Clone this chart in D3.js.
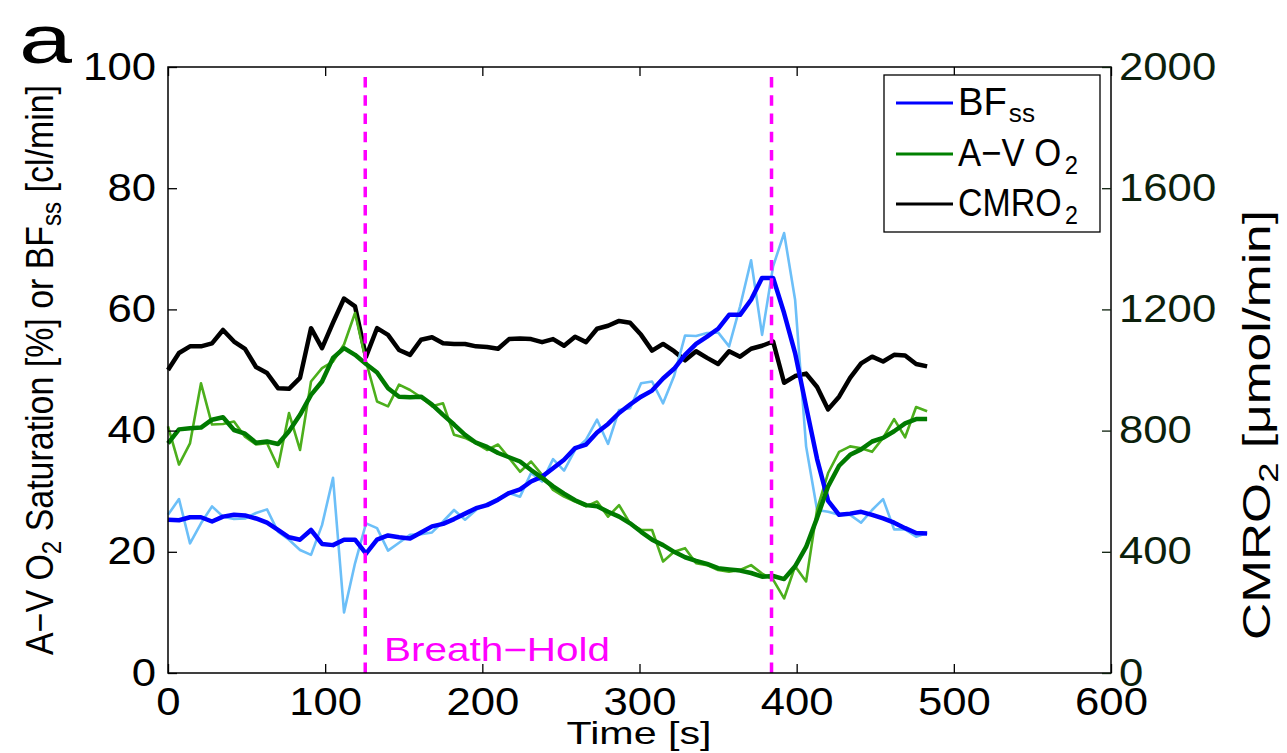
<!DOCTYPE html>
<html>
<head>
<meta charset="utf-8">
<script src="https://cdn.jsdelivr.net/npm/d3@7"></script>
<style>
  body { margin: 0; background: #fff; }
</style>
</head>
<body>
<svg id="chart" width="1287" height="753"></svg>
<script>
// sample times [s]
const timeSec = [0, 7, 14, 21, 28, 35, 42, 49, 56, 63, 70, 77, 84, 91, 98, 105, 112, 119, 126, 133,
    140, 147, 154, 161, 168, 175, 182, 189, 196, 203, 210, 217, 224, 231, 238, 245, 252, 259, 266, 273,
    280, 287, 294, 301, 308, 315, 322, 329, 336, 343, 350, 357, 364, 371, 378, 385, 392, 399, 406, 413,
    420, 427, 434, 441, 448, 455, 462, 469, 476, 483];

// BFss raw (light blue) and smoothed (blue), cl/min
const bfRaw = [26.1, 28.7, 21.4, 24.7, 27.5, 25.8, 25.4, 25.5, 26.4, 27.0, 23.3, 22.0, 20.3, 19.5, 24.4, 32.2, 10.0, 18.1, 24.7, 23.9,
    20.2, 21.5, 22.8, 22.9, 23.2, 25.0, 26.9, 25.3, 26.9, 27.9, 28.8, 29.7, 29.1, 33.0, 31.6, 35.3, 33.4, 36.8, 38.5, 41.8,
    37.8, 43.4, 43.7, 47.8, 48.1, 44.5, 49.0, 55.7, 55.6, 56.1, 56.2, 53.9, 60.5, 68.1, 55.8, 67.1, 72.6, 61.6, 37.4, 26.9,
    26.6, 26.1, 26.1, 24.8, 26.9, 28.7, 23.7, 23.7, 22.5, 23.1];
const bfSmooth = [25.3, 25.2, 25.7, 25.7, 25.0, 25.8, 26.1, 26.0, 25.5, 24.8, 23.6, 22.4, 22.0, 23.6, 21.3, 21.1, 22.0, 22.0, 19.7, 22.0,
    22.7, 22.4, 22.2, 23.2, 24.2, 24.6, 25.4, 26.3, 27.2, 27.7, 28.6, 29.7, 30.3, 31.6, 32.4, 33.8, 35.2, 37.1, 37.7, 39.7,
    41.1, 42.9, 44.3, 45.6, 46.6, 48.6, 50.2, 52.5, 54.3, 55.5, 56.8, 59.1, 59.1, 61.6, 65.2, 65.2, 59.4, 52.8, 44.0, 35.3,
    28.4, 26.1, 26.3, 26.6, 26.1, 25.5, 24.8, 23.9, 23.1, 23.0];

// A-V O2 saturation raw (light green) and smoothed (green), %
const avo2Raw = [40.7, 34.4, 37.9, 47.8, 41.0, 41.1, 41.5, 39.0, 37.7, 37.9, 34.0, 42.9, 36.8, 48.1, 50.3, 51.4, 54.2, 59.4, 51.4, 44.8,
    44.0, 47.6, 46.7, 45.5, 44.0, 44.5, 39.3, 38.8, 37.9, 36.8, 37.7, 35.5, 33.2, 34.9, 32.7, 30.2, 29.1, 28.3, 27.5, 28.3,
    25.8, 27.7, 24.7, 23.6, 23.6, 18.4, 20.0, 20.6, 18.1, 17.8, 17.0, 16.7, 17.0, 17.8, 16.4, 15.4, 12.3, 17.6, 15.1, 27.0,
    33.0, 36.5, 37.4, 37.1, 36.5, 38.8, 41.9, 38.9, 43.9, 43.2];
const avo2Smooth = [37.9, 40.2, 40.4, 40.5, 41.8, 42.2, 40.1, 39.5, 38.0, 38.2, 37.8, 39.9, 42.6, 45.9, 48.1, 52.0, 53.6, 52.5, 51.0, 49.6,
    47.0, 45.6, 45.5, 45.6, 44.3, 42.6, 41.0, 39.3, 38.0, 37.3, 36.3, 35.6, 34.9, 33.5, 32.2, 30.8, 29.6, 28.5, 27.7, 27.5,
    26.6, 25.8, 24.7, 23.3, 22.0, 21.1, 20.0, 19.1, 18.5, 18.0, 17.3, 17.1, 16.9, 16.5, 15.9, 16.0, 15.5, 17.6, 20.8, 25.6,
    30.8, 34.2, 36.0, 36.9, 38.2, 38.8, 39.9, 41.2, 41.9, 41.9];

// CMRO2, umol/min (right axis)
const cmro2 = [1000, 1056, 1078, 1078, 1088, 1132, 1094, 1070, 1010, 990, 940, 938, 974, 1138, 1072, 1156, 1236, 1210, 1044, 1138,
    1116, 1066, 1050, 1100, 1108, 1088, 1086, 1086, 1078, 1076, 1070, 1102, 1104, 1102, 1092, 1102, 1080, 1110, 1092, 1136,
    1146, 1162, 1156, 1116, 1064, 1086, 1062, 1032, 1062, 1040, 1020, 1062, 1044, 1070, 1080, 1094, 958, 980, 988, 944,
    870, 912, 974, 1022, 1044, 1028, 1050, 1048, 1020, 1012];

// breath-hold start / end [s]
const breathHold = [125.5, 384];

const xTicks = [0, 100, 200, 300, 400, 500, 600];
const yLeftTicks = [0, 20, 40, 60, 80, 100];
const yRightTicks = [0, 400, 800, 1200, 1600, 2000];

const legendItems = [
    { label: "BF", sub: "ss", color: "#0000ff" },
    { label: "A\u2212V O", sub: "2", color: "#008000" },
    { label: "CMRO", sub: "2", color: "#000000" }
];

const FONT = "'Liberation Sans', Arial, Helvetica, sans-serif";
const svg = d3.select("#chart");

const area = { left: 168, right: 1111, top: 67, bottom: 673 };

const x = d3.scaleLinear().domain([0, 600]).range([area.left, area.right]);
const yL = d3.scaleLinear().domain([0, 100]).range([area.bottom, area.top]);
const yR = d3.scaleLinear().domain([0, 2000]).range([area.bottom, area.top]);

function drawSeries(values, scaleY, color, width) {
    const line = d3.line()
        .x((d, i) => x(timeSec[i]))
        .y(d => scaleY(d));
    svg.append("path")
        .datum(values)
        .attr("d", line)
        .attr("fill", "none")
        .attr("stroke", color)
        .attr("stroke-width", width)
        .attr("stroke-linejoin", "round");
}

drawSeries(cmro2, yR, "#000000", 4.5);
drawSeries(bfRaw, yL, "#6cbff8", 2.6);
drawSeries(avo2Raw, yL, "#4caf1c", 2.6);
drawSeries(bfSmooth, yL, "#0000ff", 4.5);
drawSeries(avo2Smooth, yL, "#007a00", 4.5);

// breath-hold markers
svg.selectAll(".bh")
    .data(breathHold)
    .enter()
    .append("line")
    .attr("class", "bh")
    .attr("x1", d => x(d))
    .attr("x2", d => x(d))
    .attr("y1", area.bottom)
    .attr("y2", 75)
    .attr("stroke", "#ff00ff")
    .attr("stroke-width", 3.5)
    .attr("stroke-dasharray", "10.5,7.8");

svg.append("text")
    .attr("x", 384)
    .attr("y", 661)
    .attr("font-family", FONT)
    .attr("font-size", 33)
    .attr("fill", "#ff00ff")
    .attr("textLength", 226)
    .attr("lengthAdjust", "spacingAndGlyphs")
    .text("Breath\u2212Hold");

// frame
svg.append("rect")
    .attr("x", area.left)
    .attr("y", area.top)
    .attr("width", area.right - area.left)
    .attr("height", area.bottom - area.top)
    .attr("fill", "none")
    .attr("stroke", "#000")
    .attr("stroke-width", 1.5);

function styleAxis(g, color) {
    g.select(".domain").remove();
    g.selectAll(".tick line").attr("stroke", color).attr("stroke-width", 1.3);
    g.selectAll(".tick text")
        .attr("font-family", FONT)
        .attr("font-size", 38)
        .attr("fill", color)
        .attr("textLength", d => String(d).length * 24.3)
        .attr("lengthAdjust", "spacingAndGlyphs");
}

svg.append("g")
    .attr("transform", `translate(0,${area.bottom})`)
    .call(d3.axisBottom(x).tickValues(xTicks).tickSize(-9).tickSizeOuter(0).tickPadding(15).tickFormat(d3.format("d")))
    .call(g => styleAxis(g, "#000"));

svg.append("g")
    .attr("transform", `translate(0,${area.top})`)
    .call(d3.axisTop(x).tickValues(xTicks).tickSize(-9).tickSizeOuter(0).tickFormat(""))
    .call(g => styleAxis(g, "#000"));

svg.append("g")
    .attr("transform", `translate(${area.left},0)`)
    .call(d3.axisLeft(yL).tickValues(yLeftTicks).tickSize(-9).tickSizeOuter(0).tickPadding(12).tickFormat(d3.format("d")))
    .call(g => styleAxis(g, "#000"));

svg.append("g")
    .attr("transform", `translate(${area.right},0)`)
    .call(d3.axisRight(yR).tickValues(yRightTicks).tickSize(-9).tickSizeOuter(0).tickPadding(8).tickFormat(d3.format("d")))
    .call(g => styleAxis(g, "#0c1f0c"));

// axis titles
svg.append("text")
    .attr("x", 639)
    .attr("y", 744)
    .attr("text-anchor", "middle")
    .attr("font-family", FONT)
    .attr("font-size", 32)
    .attr("textLength", 145)
    .attr("lengthAdjust", "spacingAndGlyphs")
    .text("Time [s]");

const leftTitle = svg.append("text")
    .attr("transform", "translate(53,370) rotate(-90)")
    .attr("text-anchor", "middle")
    .attr("font-family", FONT)
    .attr("font-size", 38)
    .attr("textLength", 570)
    .attr("lengthAdjust", "spacingAndGlyphs");
leftTitle.append("tspan").text("A\u2212V O");
leftTitle.append("tspan").attr("font-size", 27).attr("dy", 8).text("2");
leftTitle.append("tspan").attr("dy", -8).text(" Saturation [%] or BF");
leftTitle.append("tspan").attr("font-size", 27).attr("dy", 8).text("ss");
leftTitle.append("tspan").attr("dy", -8).text(" [cl/min]");

const rightTitle = svg.append("text")
    .attr("transform", "translate(1270,425) rotate(-90)")
    .attr("text-anchor", "middle")
    .attr("font-family", FONT)
    .attr("font-size", 38)
    .attr("fill", "#000")
    .attr("textLength", 430)
    .attr("lengthAdjust", "spacingAndGlyphs");
rightTitle.append("tspan").text("CMRO");
rightTitle.append("tspan").attr("font-size", 27).attr("dy", 8).text("2");
rightTitle.append("tspan").attr("dy", -8).text(" [\u03bcmol/min]");

// panel letter
svg.append("text")
    .attr("x", 19)
    .attr("y", 63)
    .attr("font-family", FONT)
    .attr("font-size", 69)
    .attr("textLength", 53)
    .attr("lengthAdjust", "spacingAndGlyphs")
    .text("a");

// legend
const legend = svg.append("g");
legend.append("rect")
    .attr("x", 884)
    .attr("y", 75)
    .attr("width", 216)
    .attr("height", 157)
    .attr("fill", "#fff")
    .attr("stroke", "#000")
    .attr("stroke-width", 1.3);

const rowY = [103, 154, 204];
const labelW = [77, 120, 120];

legendItems.forEach((item, i) => {
    legend.append("line")
        .attr("x1", 896)
        .attr("x2", 953)
        .attr("y1", rowY[i])
        .attr("y2", rowY[i])
        .attr("stroke", item.color)
        .attr("stroke-width", 3.2);
    const t = legend.append("text")
        .attr("x", 958)
        .attr("y", rowY[i] + 12)
        .attr("font-family", FONT)
        .attr("font-size", 38)
        .attr("textLength", labelW[i])
        .attr("lengthAdjust", "spacingAndGlyphs");
    t.append("tspan").text(item.label);
    t.append("tspan")
        .attr("font-size", 26)
        .attr("dx", i === 0 ? 2 : 4)
        .attr("dy", i === 0 ? 7 : 8)
        .text(item.sub);
});
</script>
</body>
</html>
